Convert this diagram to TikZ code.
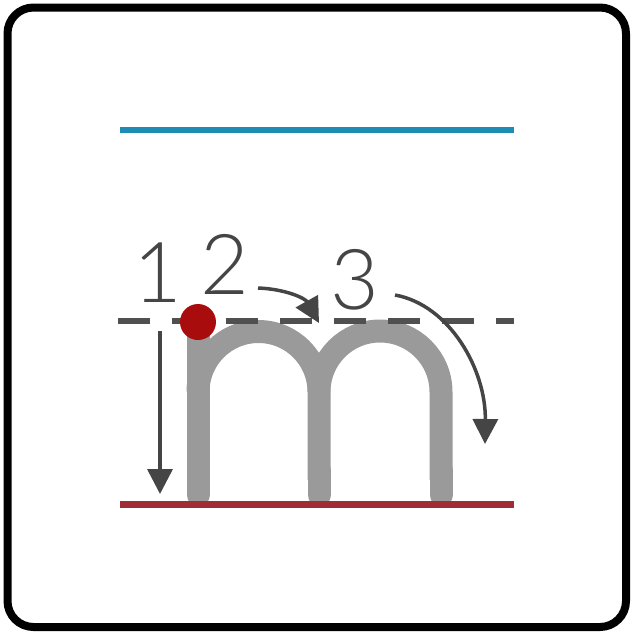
\documentclass[tikz,border=0pt]{standalone}
\usepackage{fontspec}
\setmainfont{Lato Light}
\usetikzlibrary{arrows.meta}
\definecolor{guideblue}{HTML}{1F8CB5}
\definecolor{guidered}{HTML}{A02C36}
\definecolor{lettergray}{HTML}{9A9A9A}
\definecolor{dotred}{HTML}{A80C0C}
\definecolor{arrowgray}{HTML}{454545}
\definecolor{dashgray}{HTML}{505050}
\tikzset{
  frame/.style={draw=black, line width=8pt, rounded corners=26pt},
  guide/.style={line width=5.5pt},
  letter/.style={draw=lettergray, line width=23pt, line cap=round},
  strokearrow/.style={draw=arrowgray, line width=3.5pt, -{Triangle[length=25pt,width=25pt]}},
  digit/.style={inner sep=0pt, text=arrowgray, font=\fontsize{84}{90}\selectfont},
}
\begin{document}
\begin{tikzpicture}[x=1pt,y=-1pt]
\useasboundingbox (0,0) rectangle (632,633);
\draw[frame] (7.5,7.5) rectangle (626,627);
% guide lines
\coordinate (b1) at (120,130); \coordinate (b2) at (514,130);
\draw[guide, guideblue] (b1) -- (b2);
% letter m
\draw[letter] (198,495) -- (198,336);
\draw[letter, line cap=butt] (198,392) arc[start angle=180, end angle=360, radius=60.5] -- (319,480);
\draw[letter, line cap=butt] (319,392) arc[start angle=180, end angle=360, radius=61] -- (441,480);
\draw[letter] (319,470) -- (319,495);
\draw[letter] (441,470) -- (441,495);
% dashed midline
\coordinate (d1) at (118,321); \coordinate (d2) at (514,321);
\draw[guide, dashgray, dash pattern=on 32pt off 22pt] (d1) -- (d2);
% red baseline
\coordinate (r1) at (120,504); \coordinate (r2) at (514,504);
\draw[guide, guidered, line width=7pt] (r1) -- (r2);
% start dot
\node[circle, fill=dotred, minimum size=36pt, inner sep=0pt] (dot) at (198,322) {};
% digits
\node[digit] (n1) at (158,273) {1};
\node[digit] (n2) at (225,264) {2};
\node[digit] (n3) at (355,280) {3};
% arrows
\coordinate (a1s) at (160,331); \coordinate (a1e) at (160,494);
\draw[strokearrow] (a1s) -- (a1e);
\coordinate (a2s) at (258,288); \coordinate (a2e) at (319,323);
\draw[strokearrow] (a2s) .. controls (285,289) and (305,298) .. (a2e);
\coordinate (a3s) at (395,295); \coordinate (a3e) at (485,444);
\draw[strokearrow] (a3s) .. controls (450,305) and (486,370) .. (a3e);
\end{tikzpicture}
\end{document}
